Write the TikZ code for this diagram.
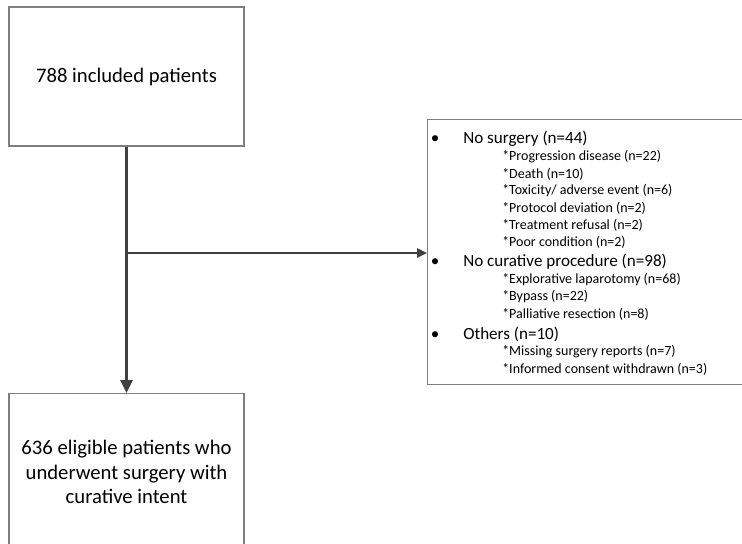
\documentclass[tikz,border=0pt]{standalone}
\usepackage{fontspec}
\setmainfont{Carlito}
\usetikzlibrary{arrows.meta,positioning}
\definecolor{boxgray}{HTML}{7F7F7F}
\definecolor{arrowgray}{HTML}{404040}
\newcommand{\pxu}{0.75pt}

\begin{document}
\begin{tikzpicture}[x=0.75pt, y=-0.75pt,
    box/.style = {draw=boxgray, line width=0.8pt, inner sep=0pt, align=center,
                  font=\fontsize{15.5}{18.5}\selectfont},
    listbox/.style = {draw=boxgray, line width=0.8pt, inner sep=0pt},
    mainitem/.style = {anchor=west, inner sep=0pt, font=\fontsize{12.8}{15}\selectfont},
    subitem/.style = {anchor=west, inner sep=0pt, font=\fontsize{10.5}{12.5}\selectfont},
    dot/.style = {anchor=base, inner sep=0pt, font=\fontsize{12.8}{15}\selectfont},
    flow/.style = {draw=arrowgray, line width=2pt, -{Triangle[length=9.75pt, width=9pt]}},
    branch/.style = {draw=arrowgray, line width=1.1pt, -{Triangle[length=7.5pt, width=7pt]}}]

	\useasboundingbox (0,0) rectangle (742,543);
	\clip (0,0) rectangle (742,543);

	% boxes
	\node[box, minimum width=235*\pxu, minimum height=139*\pxu] (incl) at (126.5,76.5) {788 included patients};
	\node[box, minimum width=235*\pxu, minimum height=157*\pxu, anchor=north] (elig) at (126.5,393)
		{636 eligible patients who\\ underwent surgery with\\ curative intent};
	\node[listbox, minimum width=330*\pxu, minimum height=265*\pxu, anchor=north west] (excl) at (427,119) {};

	% exclusion list
	\foreach \y/\t [count=\k] in {139/No surgery (n=44), 262/No curative procedure (n=98), 334/Others (n=10)}{
		\node[mainitem] (main\k) at (463,\y) {\t};
		\node[dot] (dot\k) at ([xshift=-21pt]main\k.base west) {•};
	}
	\foreach \y/\t [count=\k] in {157/Progression disease (n=22), 174/Death (n=10),
		191/{Toxicity/ adverse event (n=6)}, 208/Protocol deviation (n=2), 225/Treatment refusal (n=2),
		242/Poor condition (n=2), 280/Explorative laparotomy (n=68), 297/Bypass (n=22),
		314/Palliative resection (n=8), 352/Missing surgery reports (n=7), 369/Informed consent withdrawn (n=3)}
		\node[subitem] (sub\k) at (502,\y) {*\t};

	% arrows
	\coordinate (split) at (126.5,253);
	\draw[flow] (incl) -- (elig);
	\draw[branch] (split) -- (split -| excl.west);

\end{tikzpicture}
\end{document}
